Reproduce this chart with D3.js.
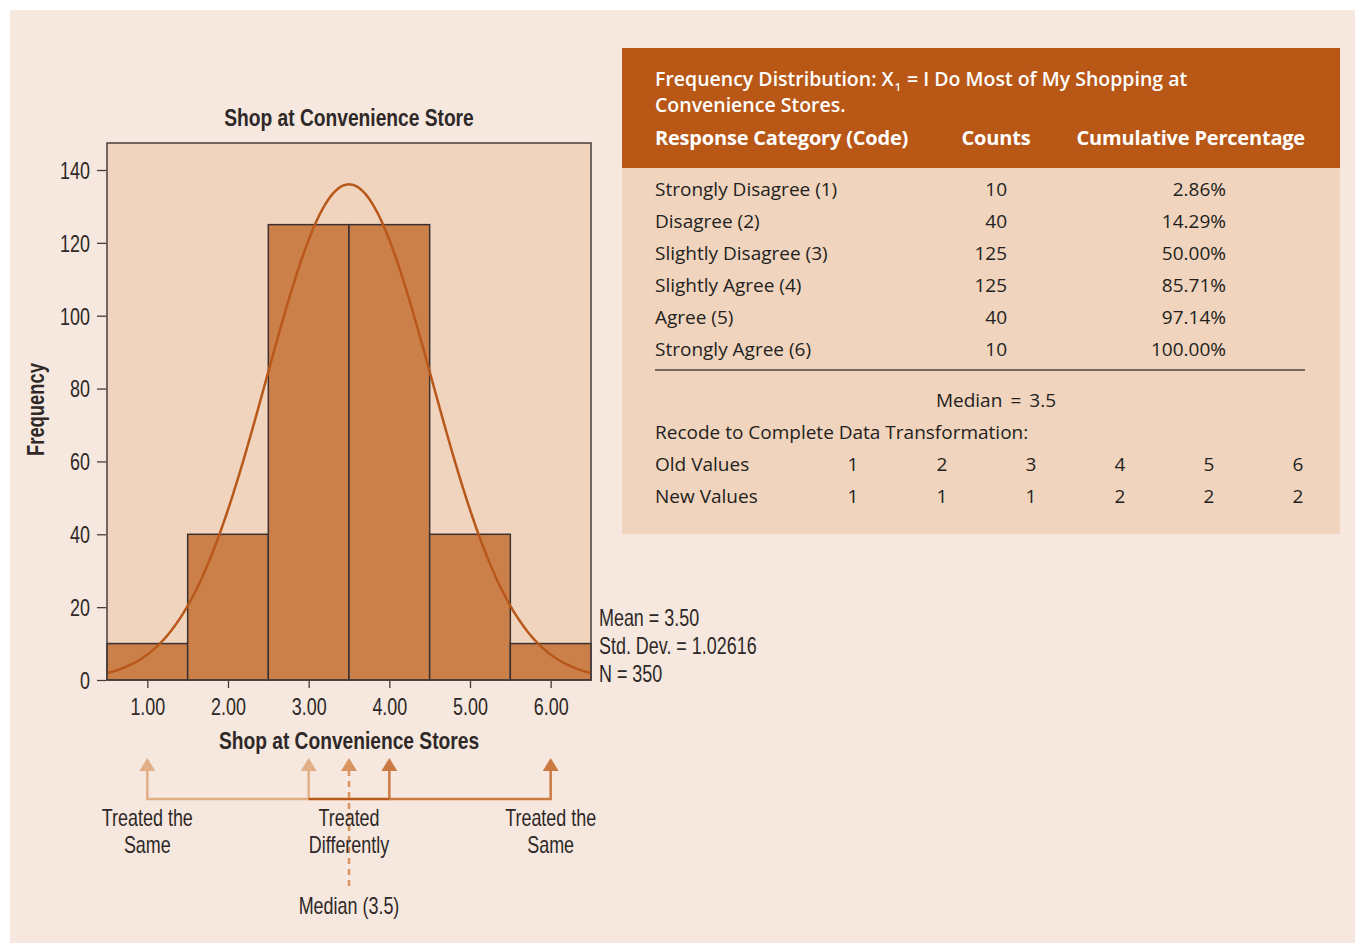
<!DOCTYPE html>
<html>
<head>
<meta charset="utf-8">
<script src="https://cdn.jsdelivr.net/npm/d3@7"></script>
<style>
  body { margin: 0; background: #fff; }
  .cond { font-family: 'Liberation Sans', Arial, sans-serif; fill: #2e2828; }
  .tbl { font-family: 'Open Sans', 'Noto Sans', sans-serif; fill: #231f20; }
</style>
</head>
<body>
<svg id="chart" width="1355" height="945"></svg>
<script>
// histogram data
const codes = [1, 2, 3, 4, 5, 6];
const counts = [10, 40, 125, 125, 40, 10];
const yTicks = [0, 20, 40, 60, 80, 100, 120, 140];
const xTickLabels = ['1.00', '2.00', '3.00', '4.00', '5.00', '6.00'];
const statLines = ['Mean = 3.50', 'Std. Dev. = 1.02616', 'N = 350'];
const mean = 3.5, stdDev = 1.02616, nTotal = 350;

// table data
const categories = ['Strongly Disagree (1)', 'Disagree (2)', 'Slightly Disagree (3)',
                    'Slightly Agree (4)', 'Agree (5)', 'Strongly Agree (6)'];
const cumPercent = ['2.86%', '14.29%', '50.00%', '85.71%', '97.14%', '100.00%'];
const oldValues = [1, 2, 3, 4, 5, 6];
const newValues = [1, 1, 1, 2, 2, 2];

// arrows below the axis
const arrowsLight = [1, 3];
const arrowsDark = [4, 6];
const medianVal = 3.5;

const colors = {
    page: '#F6E8DE',
    plot: '#F0D4BE',
    bar: '#CC8049',
    curve: '#B8581A',
    header: '#B85716',
    light: '#E2AE86',
    mid: '#CC7A43',
    dashed: '#D9935F',
}

// condensed look: squeeze Liberation Sans horizontally
const squeeze = 0.78;
const squeezeBold = 0.80;

const svg = d3.select('#chart');

function condText(px, py, txt, size, opts) {
    opts = opts || {};
    const k = opts.bold ? squeezeBold : squeeze;
    return svg.append('text')
       .attr('class', 'cond')
       .attr('transform', `translate(${px},${py})` + (opts.rotate ? ` rotate(${opts.rotate})` : '') + ` scale(${k},1)`)
       .attr('text-anchor', opts.anchor || 'start')
       .style('font-size', size + 'px')
       .style('font-weight', opts.bold ? 'bold' : 'normal')
       .text(txt);
}

svg.append('rect')
   .attr('x', 10).attr('y', 10)
   .attr('width', 1345).attr('height', 933)
   .attr('fill', colors.page);

// ---------- histogram ----------
const plot = { left: 107, right: 591, top: 143, bottom: 680 };

const x = d3.scaleLinear().domain([0.5, 6.5]).range([plot.left, plot.right]);
const y = d3.scaleLinear().domain([0, 140]).range([plot.bottom, 170]);

svg.append('rect')
   .attr('x', plot.left).attr('y', plot.top)
   .attr('width', plot.right - plot.left)
   .attr('height', plot.bottom - plot.top)
   .attr('fill', colors.plot);

svg.selectAll('rect.bar')
   .data(codes)
   .enter().append('rect')
   .attr('class', 'bar')
   .attr('x', d => x(d - 0.5))
   .attr('width', d => x(d + 0.5) - x(d - 0.5))
   .attr('y', (d, i) => y(counts[i]))
   .attr('height', (d, i) => y(0) - y(counts[i]))
   .attr('fill', colors.bar)
   .attr('stroke', '#3b3131')
   .attr('stroke-width', 1.5);

// fitted normal curve from the displayed mean / sd / N
const curvePts = d3.range(0.5, 6.5001, 0.02).map(v => {
    const z = (v - mean) / stdDev;
    return [v, nTotal / (stdDev * Math.sqrt(2 * Math.PI)) * Math.exp(-0.5 * z * z)];
});
svg.append('path')
   .attr('d', d3.line().x(d => x(d[0])).y(d => y(d[1])).curve(d3.curveBasis)(curvePts))
   .attr('fill', 'none')
   .attr('stroke', colors.curve)
   .attr('stroke-width', 2.5);

svg.append('rect')
   .attr('x', plot.left).attr('y', plot.top)
   .attr('width', plot.right - plot.left)
   .attr('height', plot.bottom - plot.top)
   .attr('fill', 'none')
   .attr('stroke', '#463c3c')
   .attr('stroke-width', 1.5);

// y axis
const yAxis = svg.append('g')
   .attr('transform', `translate(${plot.left - 1},0)`)
   .call(d3.axisLeft(y).tickValues(yTicks).tickSize(9).tickPadding(7));
yAxis.select('.domain').remove();
yAxis.selectAll('line').attr('stroke', '#463c3c').attr('stroke-width', 1.3);
yAxis.selectAll('text')
     .attr('class', 'cond')
     .attr('x', -16 / squeeze)
     .attr('transform', `scale(${squeeze},1)`)
     .attr('dy', '0.36em')
     .style('font-size', '23px');

// x axis
const xAxis = svg.append('g')
   .attr('transform', `translate(0,${plot.bottom + 1})`)
   .call(d3.axisBottom(x).tickValues(codes).tickFormat((d, i) => xTickLabels[i]).tickSize(7).tickPadding(11));
xAxis.select('.domain').remove();
xAxis.selectAll('line').attr('stroke', '#463c3c').attr('stroke-width', 1.3);
xAxis.selectAll('text')
     .attr('class', 'cond')
     .attr('transform', `scale(${squeeze},1)`)
     .style('font-size', '23px');

// titles
const midX = (plot.left + plot.right) / 2;
condText(midX, 126, 'Shop at Convenience Store', 24, { anchor: 'middle', bold: true });
condText(midX, 749, 'Shop at Convenience Stores', 24, { anchor: 'middle', bold: true });
condText(44, (plot.top + plot.bottom) / 2 - 2, 'Frequency', 23, { anchor: 'middle', bold: true, rotate: -90 });

statLines.forEach((t, i) => condText(plot.right + 8, 626 + i * 28, t, 23));

// ---------- arrows ----------
const lineY = 799, tipY = 758;

function arrowHead(cx, color) {
    svg.append('path')
       .attr('d', `M${cx - 8},${tipY + 13} L${cx},${tipY} L${cx + 8},${tipY + 13} Z`)
       .attr('fill', color);
}

svg.append('path')
   .attr('d', `M${x(1)},${tipY + 10} V${lineY} H${x(3)} V${tipY + 10}`)
   .attr('fill', 'none').attr('stroke', colors.light).attr('stroke-width', 2.5);
svg.append('path')
   .attr('d', `M${x(4)},${lineY} H${x(6)} V${tipY + 10} M${x(4)},${lineY} V${tipY + 10}`)
   .attr('fill', 'none').attr('stroke', colors.mid).attr('stroke-width', 2.5);
svg.append('line')
   .attr('x1', x(3)).attr('x2', x(4))
   .attr('y1', lineY).attr('y2', lineY)
   .attr('stroke', colors.curve).attr('stroke-width', 2.5);
arrowsLight.forEach(v => arrowHead(x(v), colors.light));
arrowsDark.forEach(v => arrowHead(x(v), colors.mid));
svg.append('line')
   .attr('x1', x(medianVal)).attr('x2', x(medianVal))
   .attr('y1', tipY + 12).attr('y2', 888)
   .attr('stroke', colors.dashed).attr('stroke-width', 2.5)
   .attr('stroke-dasharray', '6,5');
arrowHead(x(medianVal), colors.dashed);

const arrowLabels = [
    { v: 1, lines: ['Treated the', 'Same'] },
    { v: 3.5, lines: ['Treated', 'Differently'] },
    { v: 6, lines: ['Treated the', 'Same'] },
];
arrowLabels.forEach(lbl => {
    lbl.lines.forEach((t, i) => condText(x(lbl.v), 826 + i * 27, t, 23, { anchor: 'middle' }));
});
condText(x(medianVal), 914, 'Median (3.5)', 23, { anchor: 'middle' });

// ---------- frequency table ----------
const tbl = { left: 622, right: 1340, top: 48, headBottom: 168, bottom: 534 };
const tx = 655;

svg.append('rect')
   .attr('x', tbl.left).attr('y', tbl.top)
   .attr('width', tbl.right - tbl.left).attr('height', tbl.bottom - tbl.top)
   .attr('fill', colors.plot);
svg.append('rect')
   .attr('x', tbl.left).attr('y', tbl.top)
   .attr('width', tbl.right - tbl.left).attr('height', tbl.headBottom - tbl.top)
   .attr('fill', colors.header);

// two-line table title
const head1 = svg.append('text')
   .attr('class', 'tbl').attr('x', tx).attr('y', 86)
   .style('font-size', '19.5px').style('font-weight', 600)
   .style('fill', '#fff');
head1.append('tspan').text('Frequency Distribution: X');
head1.append('tspan').attr('dx', 1).attr('dy', 5).style('font-size', '11px').text('1');
head1.append('tspan').attr('dx', 1).attr('dy', -5).text(' = I Do Most of My Shopping at');
svg.append('text')
   .attr('class', 'tbl').attr('x', tx).attr('y', 112)
   .style('font-size', '19.5px').style('font-weight', 600)
   .style('fill', '#fff')
   .text('Convenience Stores.');

const colHeads = [
    { t: 'Response Category (Code)', x: tx, anchor: 'start' },
    { t: 'Counts', x: 996, anchor: 'middle' },
    { t: 'Cumulative Percentage', x: 1305, anchor: 'end' },
];
svg.selectAll('text.colhead')
   .data(colHeads)
   .enter().append('text')
   .attr('class', 'tbl')
   .attr('x', d => d.x).attr('y', 145)
   .attr('text-anchor', d => d.anchor)
   .style('font-size', '20px').style('font-weight', 'bold')
   .style('fill', '#fff').style('letter-spacing', '-0.2px')
   .text(d => d.t);

const rowY = d3.scalePoint().domain(categories).range([196, 356]);

const rows = svg.selectAll('g.row')
   .data(categories)
   .enter().append('g')
   .attr('transform', d => `translate(0,${rowY(d)})`);
rows.append('text').attr('class', 'tbl').attr('x', tx)
    .style('font-size', '19px')
    .text(d => d);
rows.append('text').attr('class', 'tbl').attr('x', 1007).attr('text-anchor', 'end')
    .style('font-size', '19px')
    .text((d, i) => counts[i]);
rows.append('text').attr('class', 'tbl').attr('x', 1226).attr('text-anchor', 'end')
    .style('font-size', '19px')
    .text((d, i) => cumPercent[i]);

svg.append('line')
   .attr('x1', tx).attr('x2', 1305)
   .attr('y1', 370).attr('y2', 370)
   .attr('stroke', '#4a4444').attr('stroke-width', 1.5);

svg.append('text')
   .attr('class', 'tbl').attr('x', 996).attr('y', 407)
   .attr('text-anchor', 'middle')
   .style('font-size', '19px')
   .text('Median \u2009=\u2009 3.5');
svg.append('text')
   .attr('class', 'tbl').attr('x', tx).attr('y', 439)
   .style('font-size', '19px')
   .text('Recode to Complete Data Transformation:');

const recodeX = d3.scalePoint().domain(oldValues).range([853, 1298]);
[['Old Values', oldValues, 471], ['New Values', newValues, 503]].forEach(r => {
    svg.append('text')
       .attr('class', 'tbl').attr('x', tx).attr('y', r[2])
       .style('font-size', '19px')
       .text(r[0]);
    svg.selectAll(null)
       .data(r[1])
       .enter().append('text')
       .attr('class', 'tbl')
       .attr('x', (d, i) => recodeX(oldValues[i]))
       .attr('y', r[2])
       .attr('text-anchor', 'middle')
       .style('font-size', '19px')
       .text(d => d);
});
</script>
</body>
</html>
